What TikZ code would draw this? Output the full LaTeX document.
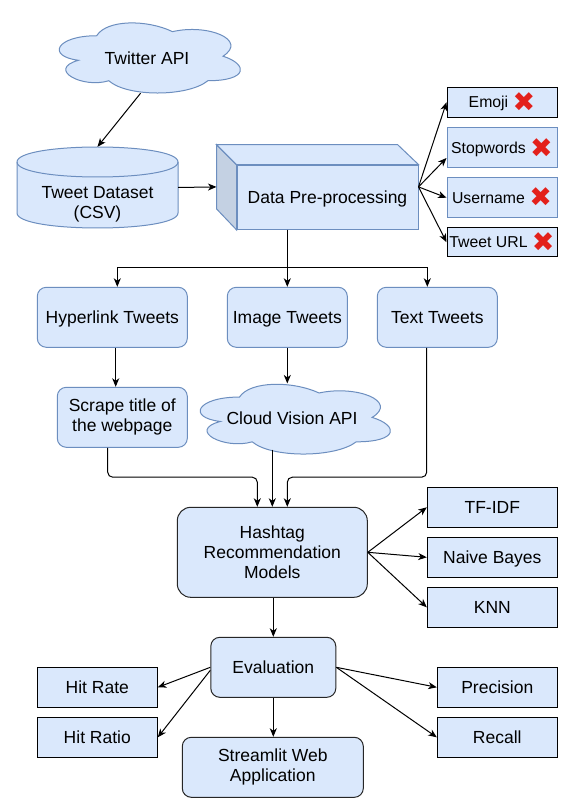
\documentclass[tikz,border=0pt]{standalone}
\usepackage{fontspec}
\setmainfont{Liberation Sans}
\newfontfamily\symfont{DejaVu Sans}
\usetikzlibrary{arrows.meta}
\definecolor{boxfill}{HTML}{DAE8FC}
\definecolor{boxline}{HTML}{6C8EBF}
\definecolor{cubeside}{HTML}{C4D1E3}
\definecolor{xred}{HTML}{E3201B}
\newcommand\nope{\raisebox{-3.6pt}{\textcolor{xred}{\symfont\fontsize{27}{27}\selectfont ✖}}}

\begin{document}
\begin{tikzpicture}[x=1pt, y=-1pt, font=\fontsize{17.5}{20}\selectfont,
  box/.style={draw=boxline, fill=boxfill, line width=1pt, align=center, inner sep=0pt},
  dbox/.style={box, draw=black},
  rbox/.style={box, rounded corners=9pt},
  rdbox/.style={box, draw=black!85, rounded corners=9pt},
  plain/.style={align=center, inner sep=0pt},
  one/.style={text height=12.6pt, text depth=0pt},
  tag/.style={font=\fontsize{15.8}{18}\selectfont, text height=11.3pt, text depth=0pt},
  shape line/.style={draw=boxline, fill=boxfill, line width=1pt},
  arr/.style={-{Stealth[length=8.5pt,width=7pt,inset=2.5pt]}, line width=1pt}]
\useasboundingbox[fill=white] (0,0) rectangle (561,802);

\begin{scope}[shift={(46.1,15.3)}, xscale=202.2, yscale=81.8]
\filldraw[shape line] (0.25,0.25) .. controls (0.05,0.25) and (0,0.5) .. (0.16,0.55) .. controls (0,0.66) and (0.18,0.9) .. (0.31,0.8) .. controls (0.4,1) and (0.7,1) .. (0.8,0.8) .. controls (1,0.8) and (1,0.6) .. (0.875,0.5) .. controls (1,0.3) and (0.8,0.1) .. (0.625,0.2) .. controls (0.5,0.05) and (0.3,0.05) .. (0.25,0.25) -- cycle;
\end{scope}
\node[plain, one, minimum width=181pt, minimum height=70pt] (twapi) at (147,58) {Twitter API};

\filldraw[shape line] (17,162) .. controls (17,142) and (178,142) .. (178,162) -- (178,213) .. controls (178,233) and (17,233) .. (17,213) -- cycle;
\draw[draw=boxline, line width=1pt] (17,162) .. controls (17,182) and (178,182) .. (178,162);
\node[plain, minimum width=161pt, minimum height=81pt] (data) at (97.5,187.5) {};
\node[plain] (datatxt) at (97.5,204) {Tweet Dataset\\(CSV)};

\node[box, one, minimum width=181pt, minimum height=64.3pt] (prep) at (327.5,197.2) {Data Pre-processing};
\filldraw[shape line, fill=cubeside] (prep.north west) -- ++(-20,-20) -- ++(0,64.3) -- (prep.south west) -- cycle;
\filldraw[shape line] (prep.north west) -- ++(-20,-20) -- ++(181,0) -- (prep.north east) -- cycle;

\node[dbox, tag, minimum width=110pt, minimum height=30pt] (emoji) at (502,102.3) {Emoji \nope};
\node[box, tag, minimum width=110pt, minimum height=40pt] (stop) at (502,148) {Stopwords \nope};
\node[box, tag, minimum width=110pt, minimum height=40pt] (user) at (502,197.7) {Username \nope};
\node[dbox, tag, minimum width=110pt, minimum height=29pt] (url) at (502,242.2) {Tweet URL \nope};

\node[rbox, one, minimum width=150pt, minimum height=60pt] (hyper) at (112.3,317.3) {Hyperlink Tweets};
\node[rbox, one, minimum width=120pt, minimum height=60pt] (image) at (287.3,317.3) {Image Tweets};
\node[rbox, one, minimum width=120pt, minimum height=60pt] (txt) at (437.3,317.3) {Text Tweets};
\node[rbox, minimum width=130pt, minimum height=60pt] (scrape) at (122.3,417.3) {Scrape title of\\the webpage};

\begin{scope}[shift={(186.4,376.7)}, xscale=212.3, yscale=81.4]
\filldraw[shape line] (0.25,0.25) .. controls (0.05,0.25) and (0,0.5) .. (0.16,0.55) .. controls (0,0.66) and (0.18,0.9) .. (0.31,0.8) .. controls (0.4,1) and (0.7,1) .. (0.8,0.8) .. controls (1,0.8) and (1,0.6) .. (0.875,0.5) .. controls (1,0.3) and (0.8,0.1) .. (0.625,0.2) .. controls (0.5,0.05) and (0.3,0.05) .. (0.25,0.25) -- cycle;
\end{scope}
\node[plain, one, minimum width=190pt, minimum height=69.7pt] (cvapi) at (292,418.5) {Cloud Vision API};

\node[rdbox, rounded corners=13.5pt, minimum width=190pt, minimum height=90pt] (hash) at (272.3,552.3) {Hashtag\\Recommendation\\Models};
\node[dbox, one, minimum width=130pt, minimum height=40pt] (tfidf) at (492.3,507.3) {TF-IDF};
\node[dbox, one, minimum width=130pt, minimum height=40pt] (naive) at (492.3,557.3) {Naive Bayes};
\node[dbox, one, minimum width=130pt, minimum height=40pt] (knn) at (492.3,607.3) {KNN};

\node[rdbox, one, minimum width=125pt, minimum height=60pt] (eval) at (273.3,667.3) {Evaluation};
\node[dbox, one, minimum width=120pt, minimum height=40pt] (hitrate) at (97.3,687.3) {Hit Rate};
\node[dbox, one, minimum width=120pt, minimum height=40pt] (hitratio) at (97.3,737.3) {Hit Ratio};
\node[rdbox, minimum width=181pt, minimum height=60pt] (stream) at (272.8,767.3) {Streamlit Web\\Application};
\node[dbox, one, minimum width=120pt, minimum height=40pt] (prec) at (497.3,687.3) {Precision};
\node[dbox, one, minimum width=120pt, minimum height=40pt] (recall) at (497.3,737.3) {Recall};

\draw[arr] ([xshift=-6.4pt]twapi.south) -- (data.north);
\draw[arr] (data.east) -- ([xshift=-20pt,yshift=10.3pt]prep.west);
\draw[arr] ([yshift=10.3pt]prep.east) -- (emoji.west);
\draw[arr] ([yshift=10.3pt]prep.east) -- ([yshift=-10pt]stop.west);
\draw[arr] ([yshift=10.3pt]prep.east) -- (user.west);
\draw[arr] ([yshift=10.3pt]prep.east) -- (url.west);

\draw[arr] (image.north |- prep.south) -- (image.north);
\draw[arr] (image.north |- prep.south) -- ++(0,38) -| ([xshift=5pt]hyper.north);
\draw[arr] (image.north |- prep.south) -- ++(0,38) -| ([xshift=-10pt]txt.north);
\draw[arr] ([xshift=3.4pt]hyper.south) -- ([xshift=3.4pt]hyper.south |- scrape.north);
\draw[arr] (image.south) -- (image.south |- cvapi.north);

\draw[arr, rounded corners=5pt] ([xshift=-14.6pt]scrape.south) -- ++(0,29.4) -| ([xshift=-15pt]hash.north);
\draw[arr] ([yshift=4pt]hash.north |- cvapi.south) -- (hash.north);
\draw[arr, rounded corners=5pt] ([xshift=-10.6pt]txt.south) -- ++(0,129.4) -| ([xshift=15pt]hash.north);

\draw[arr] (hash.east) -- (tfidf.west);
\draw[arr] (hash.east) -- (naive.west);
\draw[arr] (hash.east) -- (knn.west);
\draw[arr] (eval.north |- hash.south) -- (eval.north);

\draw[arr] (eval.west) -- (hitrate.east);
\draw[arr] ([yshift=-3pt]eval.west) -- (hitratio.east);
\draw[arr] (eval.south) -- (eval.south |- stream.north);
\draw[arr] (eval.east) -- (prec.west);
\draw[arr] (eval.east) -- (recall.west);
\end{tikzpicture}
\end{document}
